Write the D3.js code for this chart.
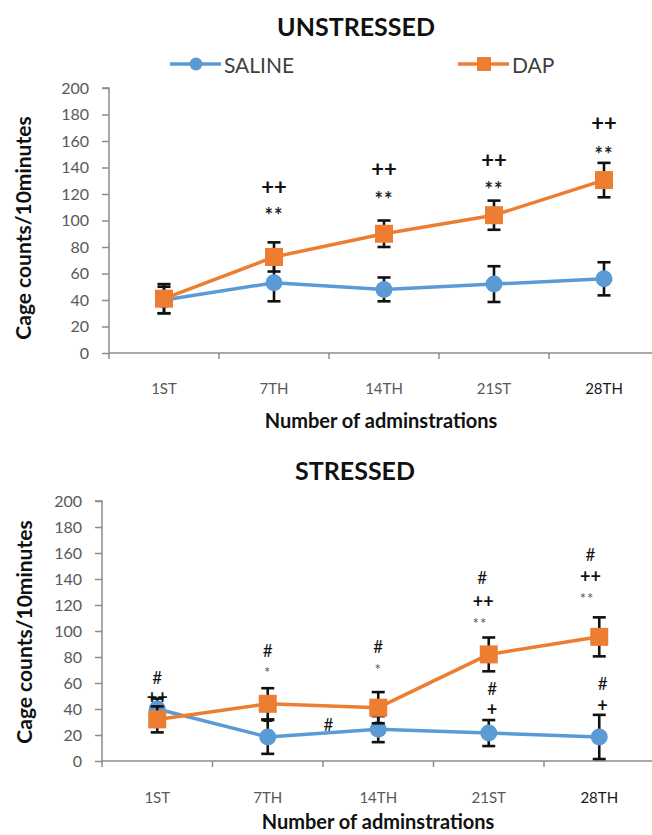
<!DOCTYPE html>
<html>
<head>
<meta charset="utf-8">
<script src="https://cdn.jsdelivr.net/npm/d3@7"></script>
<style>
  html, body { margin: 0; padding: 0; background: #fff; }
  svg { display: block; font-family: Lato, "Open Sans", sans-serif; }
</style>
</head>
<body>
<svg id="fig" width="652" height="835"></svg>
<script>
// Administration days on the x axis
const categories = ["1ST", "7TH", "14TH", "21ST", "28TH"];
const yTicks = [0, 20, 40, 60, 80, 100, 120, 140, 160, 180, 200];
const seriesNames = ["SALINE", "DAP"];

// Unstressed group: mean cage counts and error
const unstressedSaline    = [40, 53, 48, 52, 56];
const unstressedSalineErr = [10, 14, 9, 13.5, 12.5];
const unstressedDap       = [41, 72.5, 90, 104, 130.5];
const unstressedDapErr    = [11, 11, 10, 11, 13];

// Stressed group: mean cage counts and error
const stressedSaline    = [40, 18.5, 24.5, 21.5, 18.5];
const stressedSalineErr = [8, 13, 10, 10, 17];
const stressedDap       = [32, 44, 41, 82, 95.5];
const stressedDapErr    = [10, 12, 12, 13, 15];

// Significance marks: category, height in count units, symbol
const unstressedMarks = [
  { cat: "7TH",  at: 126, text: "++" }, { cat: "7TH",  at: 109, text: "**" },
  { cat: "14TH", at: 139, text: "++" }, { cat: "14TH", at: 121, text: "**" },
  { cat: "21ST", at: 146, text: "++" }, { cat: "21ST", at: 128, text: "**" },
  { cat: "28TH", at: 174, text: "++" }, { cat: "28TH", at: 155, text: "**" }
];
const stressedMarks = [
  { cat: "1ST",  at: 64,  text: "#" },  { cat: "1ST",  at: 49,  text: "++" },
  { cat: "7TH",  at: 85,  text: "#" },  { cat: "7TH",  at: 72,  text: "*" },
  { cat: "7TH",  at: 31,  text: "+" },
  { cat: "14TH", at: 28,  text: "#", shift: -0.45 },
  { cat: "14TH", at: 88,  text: "#" },  { cat: "14TH", at: 74,  text: "*" },
  { cat: "21ST", at: 141, text: "#", shift: -0.06 }, { cat: "21ST", at: 123, text: "++", shift: -0.05 },
  { cat: "21ST", at: 110, text: "**", shift: -0.08 },
  { cat: "21ST", at: 56,  text: "#", shift: 0.03 },  { cat: "21ST", at: 40,  text: "+", shift: 0.03 },
  { cat: "28TH", at: 158.5, text: "#", shift: -0.08 }, { cat: "28TH", at: 142, text: "++", shift: -0.08 },
  { cat: "28TH", at: 128.5, text: "**", shift: -0.11 },
  { cat: "28TH", at: 60,  text: "#", shift: 0.03 },  { cat: "28TH", at: 43,  text: "+", shift: 0.03 }
];

const BLUE = "#5B9BD5", ORANGE = "#ED7D31", AXIS = "#8c8c8c", TICKTXT = "#595959";
const svg = d3.select("#fig");

function panel(opts) {
  const g = svg.append("g");
  const x = d3.scaleBand().domain(categories).range([opts.left, opts.left + opts.band * categories.length]);
  const y = d3.scaleLinear().domain([0, 200]).range([opts.bottom, opts.top]);

  // title
  g.append("text").attr("x", opts.titleX).attr("y", opts.titleY)
    .attr("text-anchor", "middle").attr("font-size", 25).attr("font-weight", 700)
    .attr("fill", "#111").text(opts.title);

  // y axis
  const yAxis = g.append("g").attr("transform", `translate(${opts.left},0)`)
    .call(d3.axisLeft(y).tickValues(yTicks).tickSize(7).tickPadding(13));
  yAxis.select(".domain").attr("stroke", AXIS).attr("stroke-width", 1.5).attr("d", `M-7,${opts.top}H0V${opts.bottom}`);
  yAxis.selectAll(".tick line").attr("stroke", AXIS).attr("stroke-width", 1.5);
  yAxis.selectAll(".tick text").attr("font-size", 16).attr("fill", TICKTXT).attr("font-family", "Lato, sans-serif");

  // x axis: ticks at the category boundaries
  const xAxis = g.append("g").attr("transform", `translate(0,${opts.bottom})`);
  xAxis.append("line").attr("x1", opts.left).attr("x2", opts.left + opts.band * categories.length)
    .attr("stroke", AXIS).attr("stroke-width", 1.5);
  xAxis.selectAll("line.b").data(categories).join("line").attr("class", "b")
    .attr("x1", d => x(d)).attr("x2", d => x(d)).attr("y1", 0).attr("y2", 6)
    .attr("stroke", AXIS).attr("stroke-width", 1.5);
  xAxis.selectAll("text").data(categories).join("text")
    .attr("x", d => x(d) + x.bandwidth() / 2).attr("y", opts.tickLabelDy)
    .attr("text-anchor", "middle").attr("font-size", 15)
    .attr("fill", (d, i) => i === categories.length - 1 ? "#1a1a1a" : TICKTXT)
    .text(d => d);

  // axis titles
  g.append("text").attr("x", opts.xTitleX).attr("y", opts.xTitleY)
    .attr("text-anchor", "middle").attr("font-size", 20).attr("font-weight", 700).attr("fill", "#111")
    .text("Number of adminstrations");
  g.append("text").attr("transform", `translate(${opts.yTitleX},${opts.yTitleY}) rotate(-90)`)
    .attr("text-anchor", "middle").attr("dominant-baseline", "central")
    .attr("font-size", 21).attr("font-weight", 700).attr("fill", "#111")
    .text("Cage counts/10minutes");

  const cx = d => x(d) + x.bandwidth() / 2;
  const line = d3.line().x(d => cx(d.cat)).y(d => y(d.v));

  opts.series.forEach(s => {
    const pts = categories.map((c, i) => ({ cat: c, v: s.values[i], e: s.err[i] }));
    // error bars
    const eb = g.append("g").attr("stroke", "#111").attr("stroke-width", 2.6);
    eb.selectAll("line.v").data(pts).join("line").attr("class", "v")
      .attr("x1", d => cx(d.cat)).attr("x2", d => cx(d.cat))
      .attr("y1", d => y(d.v - d.e)).attr("y2", d => y(d.v + d.e));
    eb.selectAll("line.t").data(pts).join("line").attr("class", "t")
      .attr("x1", d => cx(d.cat) - 6.5).attr("x2", d => cx(d.cat) + 6.5)
      .attr("y1", d => y(d.v + d.e)).attr("y2", d => y(d.v + d.e));
    eb.selectAll("line.btm").data(pts).join("line").attr("class", "btm")
      .attr("x1", d => cx(d.cat) - 6.5).attr("x2", d => cx(d.cat) + 6.5)
      .attr("y1", d => y(d.v - d.e)).attr("y2", d => y(d.v - d.e));
    // connecting line
    g.append("path").datum(pts).attr("d", line).attr("fill", "none")
      .attr("stroke", s.color).attr("stroke-width", 3.5).attr("stroke-linejoin", "round");
    // markers
    if (s.shape === "circle") {
      g.selectAll(null).data(pts).join("circle")
        .attr("cx", d => cx(d.cat)).attr("cy", d => y(d.v)).attr("r", 8.5).attr("fill", s.color);
    } else {
      g.selectAll(null).data(pts).join("rect")
        .attr("x", d => cx(d.cat) - 9).attr("y", d => y(d.v) - 9)
        .attr("width", 18).attr("height", 18).attr("fill", s.color);
    }
  });

  // significance marks
  g.selectAll(null).data(opts.marks).join("text")
    .attr("x", d => cx(d.cat) + (d.shift || 0) * x.bandwidth())
    .attr("y", d => y(d.at))
    .attr("text-anchor", "middle")
    .attr("dominant-baseline", "central")
    .attr("dy", d => d.text.startsWith("*") ? opts.markStyle["*"].dy : 0)
    .attr("font-size", d => opts.markStyle[d.text[0]].size)
    .attr("font-weight", d => opts.markStyle[d.text[0]].weight)
    .attr("fill", d => opts.markStyle[d.text[0]].fill)
    .attr("letter-spacing", d => d.text.startsWith("*") ? 1 : 0)
    .text(d => d.text);
}

panel({
  title: "UNSTRESSED", titleX: 356, titleY: 36,
  left: 109, band: 110, top: 88, bottom: 353,
  tickLabelDy: 41, xTitleX: 381, xTitleY: 428, yTitleX: 22, yTitleY: 228,
  series: [
    { values: unstressedSaline, err: unstressedSalineErr, color: BLUE, shape: "circle" },
    { values: unstressedDap, err: unstressedDapErr, color: ORANGE, shape: "square" }
  ],
  marks: unstressedMarks,
  markStyle: {
    "+": { size: 22, weight: 700, fill: "#111" },
    "*": { size: 20, weight: 700, fill: "#222", dy: "0.3em" }
  }
});

panel({
  title: "STRESSED", titleX: 355, titleY: 480,
  left: 102, band: 110.5, top: 501, bottom: 761,
  tickLabelDy: 42, xTitleX: 378, xTitleY: 829, yTitleX: 23, yTitleY: 632,
  series: [
    { values: stressedSaline, err: stressedSalineErr, color: BLUE, shape: "circle" },
    { values: stressedDap, err: stressedDapErr, color: ORANGE, shape: "square" }
  ],
  marks: stressedMarks,
  markStyle: {
    "+": { size: 18, weight: 700, fill: "#111" },
    "#": { size: 17, weight: 400, fill: "#111" },
    "*": { size: 15, weight: 400, fill: "#555", dy: "0.3em" }
  }
});

// legend
const legend = svg.append("g");
const legendItems = [
  { name: seriesNames[0], color: BLUE, shape: "circle", x0: 170 },
  { name: seriesNames[1], color: ORANGE, shape: "square", x0: 458 }
];
legendItems.forEach(it => {
  const ly = 64;
  legend.append("line").attr("x1", it.x0).attr("x2", it.x0 + 51).attr("y1", ly).attr("y2", ly)
    .attr("stroke", it.color).attr("stroke-width", 3.5);
  if (it.shape === "circle") {
    legend.append("circle").attr("cx", it.x0 + 26).attr("cy", ly).attr("r", 6.5).attr("fill", it.color);
  } else {
    legend.append("rect").attr("x", it.x0 + 19).attr("y", ly - 7).attr("width", 14).attr("height", 14).attr("fill", it.color);
  }
  legend.append("text").attr("x", it.x0 + 54).attr("y", ly).attr("dominant-baseline", "central")
    .attr("font-size", 21).attr("fill", "#404040").text(it.name);
});
</script>
</body>
</html>
